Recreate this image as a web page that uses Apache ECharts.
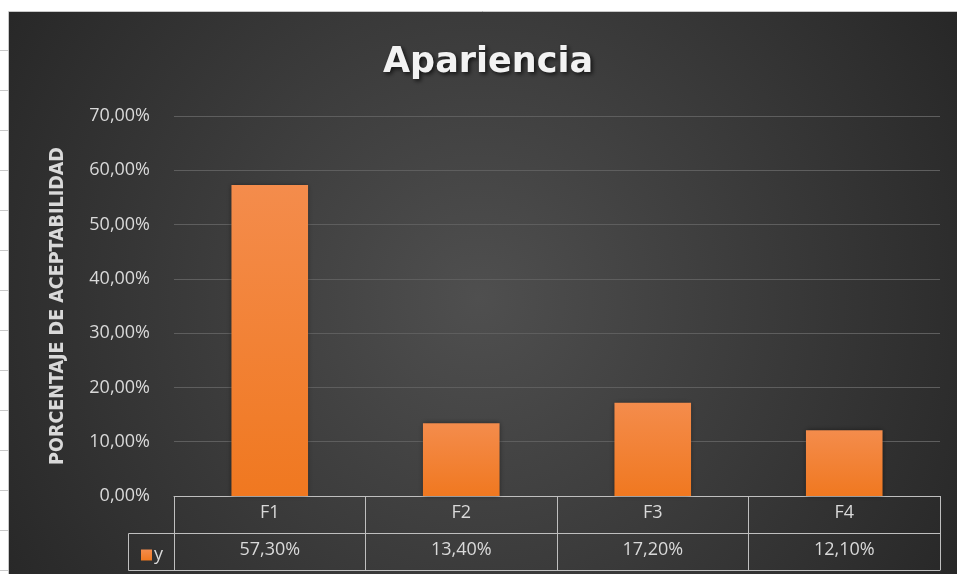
<!DOCTYPE html>
<html>
<head>
<meta charset="utf-8">
<style>
  html, body { margin: 0; padding: 0; background: #ffffff; }
  #chart { width: 957px; height: 574px; }
</style>
<script src="https://cdn.jsdelivr.net/npm/echarts@6/dist/echarts.min.js"></script>
</head>
<body>
<div id="chart"></div>
<script>
// Formulations and acceptability percentages
const categories = ['F1', 'F2', 'F3', 'F4'];
const seriesName = 'y';
const values = [57.3, 13.4, 17.2, 12.1];
const yTicks = [0, 10, 20, 30, 40, 50, 60, 70];

const fmtPct = v => v.toFixed(2).replace('.', ',') + '%';

// Layout constants
const W = 957, H = 574;
const G_LEFT = 174, G_RIGHT = 17, G_TOP = 116, G_BOTTOM = 78;
const ROW = 37;            // height of one data-table row
const LEGEND_W = 46;       // width of the legend cell left of the table
const LINE = '#bfbfbf';
const TXT = '#d9d9d9';
const FONT = '"Open Sans", "DejaVu Sans", sans-serif';

const chart = echarts.init(document.getElementById('chart'), null, { renderer: 'canvas' });

const axisY0 = H - G_BOTTOM;
const legendLeft = G_LEFT - LEGEND_W;

// Spreadsheet frame around the chart object
const frame = [
  { type: 'rect', shape: { x: 0, y: 0, width: W, height: 11 }, style: { fill: '#ffffff' }, silent: true },
  { type: 'rect', shape: { x: 0, y: 0, width: 9, height: H }, style: { fill: '#ffffff' }, silent: true },
  { type: 'line', shape: { x1: 8.5, y1: 11.5, x2: W, y2: 11.5 }, style: { stroke: '#c8c8c8', lineWidth: 1 }, silent: true },
  { type: 'line', shape: { x1: 8.5, y1: 11.5, x2: 8.5, y2: H }, style: { stroke: '#c8c8c8', lineWidth: 1 }, silent: true }
];
for (let y = 50; y < H; y += 40) {
  frame.push({ type: 'line', shape: { x1: 0, y1: y + 0.5, x2: 8, y2: y + 0.5 },
               style: { stroke: '#c8c8c8', lineWidth: 1 }, silent: true });
}
// Border of the legend cell to the left of the value row
const legendBox = [
  { type: 'line', shape: { x1: legendLeft + 0.5, y1: axisY0 + ROW + 0.5, x2: G_LEFT, y2: axisY0 + ROW + 0.5 } },
  { type: 'line', shape: { x1: legendLeft + 0.5, y1: axisY0 + 2 * ROW + 0.5, x2: G_LEFT, y2: axisY0 + 2 * ROW + 0.5 } },
  { type: 'line', shape: { x1: legendLeft + 0.5, y1: axisY0 + ROW + 0.5, x2: legendLeft + 0.5, y2: axisY0 + 2 * ROW + 0.5 } }
].map(e => Object.assign(e, { style: { stroke: LINE, lineWidth: 1 }, silent: true }));

const option = {
  animation: false,
  backgroundColor: {
    type: 'radial', x: 0.5, y: 0.52, r: 1.0,
    colorStops: [
      { offset: 0, color: '#4f4f4f' },
      { offset: 1, color: '#262626' }
    ]
  },
  title: {
    text: 'Apariencia',
    left: 378,
    top: 40,
    textStyle: {
      color: '#f2f2f2',
      fontFamily: '"DejaVu Sans", sans-serif',
      fontWeight: 'bold',
      fontSize: 35,
      textShadowColor: 'rgba(0,0,0,0.7)',
      textShadowBlur: 4,
      textShadowOffsetX: 2,
      textShadowOffsetY: 2
    }
  },
  legend: {
    data: [seriesName],
    left: legendLeft + 8,
    top: axisY0 + ROW + 8,
    itemWidth: 11,
    itemHeight: 11,
    itemGap: 4,
    icon: 'rect',
    textStyle: { color: TXT, fontFamily: FONT, fontSize: 18, padding: [0, 0, 0, -3] }
  },
  grid: { left: G_LEFT, right: G_RIGHT, top: G_TOP, bottom: G_BOTTOM, containLabel: false },
  xAxis: [
    {
      type: 'category',
      data: categories,
      position: 'bottom',
      boundaryGap: true,
      axisLine: { show: true, lineStyle: { color: LINE, width: 1 } },
      axisTick: { show: true, length: 2 * ROW, inside: false, lineStyle: { color: LINE, width: 1 } },
      axisLabel: { color: TXT, fontFamily: FONT, fontSize: 18, margin: 8 },
      splitLine: { show: false }
    },
    {
      type: 'category',
      data: categories.map((c, i) => fmtPct(values[i])),
      position: 'bottom',
      offset: ROW,
      gridIndex: 0,
      axisLine: { show: true, lineStyle: { color: LINE, width: 1 } },
      axisTick: { show: false },
      axisLabel: { color: TXT, fontFamily: FONT, fontSize: 18, margin: 8 },
      splitLine: { show: false }
    },
    {
      type: 'category',
      data: categories,
      position: 'bottom',
      offset: 2 * ROW,
      axisLine: { show: true, lineStyle: { color: LINE, width: 1 } },
      axisTick: { show: false },
      axisLabel: { show: false },
      splitLine: { show: false }
    }
  ],
  yAxis: {
    type: 'value',
    min: yTicks[0],
    max: yTicks[yTicks.length - 1],
    interval: yTicks[1] - yTicks[0],
    name: 'PORCENTAJE DE ACEPTABILIDAD',
    nameLocation: 'middle',
    nameGap: 106,
    nameTextStyle: {
      color: TXT,
      fontFamily: '"DejaVu Sans Condensed", "Open Sans", sans-serif',
      fontWeight: 'bold',
      fontSize: 19.5
    },
    axisLine: { show: false },
    axisTick: { show: false },
    axisLabel: { color: TXT, fontFamily: FONT, fontSize: 18, margin: 24, formatter: v => fmtPct(v) },
    splitLine: { show: true, lineStyle: { color: '#5e5e5e', width: 1 } }
  },
  series: [{
    name: seriesName,
    type: 'bar',
    data: values,
    barWidth: '40%',
    itemStyle: {
      color: {
        type: 'linear', x: 0, y: 0, x2: 0, y2: 1,
        colorStops: [
          { offset: 0, color: '#f48c4c' },
          { offset: 1, color: '#f07820' }
        ]
      },
      shadowColor: 'rgba(0,0,0,0.45)',
      shadowBlur: 5
    }
  }],
  graphic: frame.concat(legendBox)
};

chart.setOption(option);
</script>
</body>
</html>
